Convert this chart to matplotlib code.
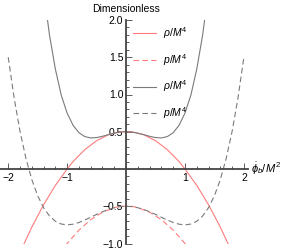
import numpy as np
import matplotlib
matplotlib.use("Agg")
import matplotlib.pyplot as plt

plt.rcParams['font.family'] = ['Liberation Sans', 'DejaVu Sans']
plt.rcParams['mathtext.fontset'] = 'custom'
plt.rcParams['mathtext.rm'] = 'Liberation Sans'
plt.rcParams['mathtext.it'] = 'Liberation Sans:italic'

# x samples (read at steps of 0.1 from -2 to 2)
x_vals = np.round(np.arange(-20, 21) / 10.0, 1)

# values for x = 0, 0.1, ..., 2.0 (curves are symmetric about x = 0)
rho_red_half = [0.50, 0.50, 0.48, 0.46, 0.42, 0.38, 0.32, 0.26, 0.18, 0.10, 0.00,
                -0.11, -0.22, -0.35, -0.48, -0.63, -0.78, -0.95, -1.12, -1.31, -1.50]
p_red_half = [-0.50, -0.50, -0.52, -0.55, -0.58, -0.63, -0.68, -0.75, -0.82, -0.91, -1.00,
              -1.11, -1.22, -1.35, -1.48, -1.63, -1.78, -1.95, -2.12, -2.31, -2.50]
rho_gray_half = [0.50, 0.495, 0.481, 0.461, 0.439, 0.422, 0.417, 0.435, 0.487, 0.587, 0.75,
                 0.99, 1.34, 1.80, 2.40, 3.17, 4.14, 5.32, 6.75, 8.47, 10.5]
p_gray_half = [-0.50, -0.505, -0.52, -0.543, -0.574, -0.609, -0.648, -0.685, -0.718, -0.741, -0.75,
               -0.739, -0.702, -0.631, -0.52, -0.359, -0.142, 0.143, 0.504, 0.953, 1.50]


def full(half):
    return np.array(half[:0:-1] + half)


rho_red = full(rho_red_half)
p_red = full(p_red_half)
rho_gray = full(rho_gray_half)
p_gray = full(p_gray_half)

legend_labels = [r'$\rho/M^4$', r'$p/M^4$', r'$\rho/M^4$', r'$p/M^4$']

W, H = 291, 252
fig = plt.figure(figsize=(W / 100, H / 100), dpi=100)
ax = fig.add_axes([0, 8.5 / H, 248 / W, 223.5 / H])

red = '#ff7b7b'
gray = '#7a7a7a'
lw = 0.8
ax.plot(x_vals, rho_red, color=red, lw=lw, label=legend_labels[0])
ax.plot(x_vals, p_red, color=red, lw=lw, dashes=(5, 3), label=legend_labels[1])
ax.plot(x_vals, rho_gray, color=gray, lw=lw, label=legend_labels[2])
ax.plot(x_vals, p_gray, color=gray, lw=lw, dashes=(5, 3), label=legend_labels[3])

ax.set_xlim(-2.14, 2.07)
ax.set_ylim(-1.0, 2.0)

for s in ['top', 'right']:
    ax.spines[s].set_visible(False)
ax.spines['left'].set_position(('data', 0))
ax.spines['bottom'].set_position(('data', 0))
for s in ['left', 'bottom']:
    ax.spines[s].set_color('#444444')
    ax.spines[s].set_linewidth(1.3)

ax.set_xticks([-2, -1, 1, 2])
ax.set_xticklabels(['\u22122', '\u22121', '1', '2'])
ax.set_xticks(np.arange(-2.0, 2.01, 0.2), minor=True)
ax.set_yticks([-1.0, -0.5, 0.5, 1.0, 1.5, 2.0])
ax.set_yticklabels(['\u22121.0', '\u22120.5', '0.5', '1.0', '1.5', '2.0'])
ax.set_yticks(np.arange(-1.0, 2.01, 0.1), minor=True)
ax.tick_params(which='both', direction='in', color='#444444', labelsize=7.5, width=0.6)
ax.tick_params(which='major', length=4, pad=3)
ax.tick_params(which='minor', length=2)
ax.tick_params(axis='y', pad=2)
ax.patch.set_alpha(0)

fig.text(126 / W, 1 - 9 / H, 'Dimensionless', ha='center', va='center', fontsize=7.5)
fig.text(251 / W, 1 - 169 / H, r'$\dot{\phi}_b/M^2$', ha='left', va='center', fontsize=8)

ax.legend(loc='upper left', bbox_to_anchor=(133 / W, 1 - 25 / H), bbox_transform=fig.transFigure,
          frameon=False, fontsize=7.5, handlelength=2.2, handletextpad=0.7, labelspacing=1.05,
          borderpad=0, borderaxespad=0)

fig.savefig('out.png', dpi=100)
